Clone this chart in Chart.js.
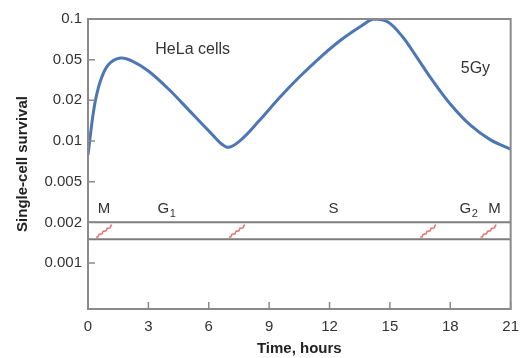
<!DOCTYPE html>
<html>
<head>
<meta charset="utf-8">
<script src="https://cdn.jsdelivr.net/npm/chart.js@4"></script>
<style>
  html, body { margin: 0; padding: 0; background: #fff; }
  #wrap { width: 528px; height: 358px; }
</style>
</head>
<body>
<div id="wrap"><canvas id="myChart"></canvas></div>
<script>
// survival curve
const hours    = [0, 0.3, 0.6, 1.0, 1.6, 2.2, 3, 4, 5, 6, 6.9, 7.6, 8.5, 9.5, 10.5, 11.5, 12.5, 13.5, 14.2, 14.9, 15.6, 16.3, 17, 18, 19, 20, 21];
const survival = [0.0079, 0.0175, 0.0302, 0.0443, 0.0514, 0.0485, 0.0387, 0.0258, 0.0170, 0.0119, 0.0090, 0.0102, 0.0141, 0.0211, 0.0338, 0.0514, 0.0687, 0.0872, 0.100, 0.095, 0.0748, 0.0532, 0.0338, 0.0188, 0.0131, 0.0102, 0.0087];

// y axis tick labels (evenly spaced on the figure)
const tickValues = [0.001, 0.002, 0.005, 0.01, 0.02, 0.05, 0.1];
const xTicks = [0, 3, 6, 9, 12, 15, 18, 21];

// cell cycle band
const bandLevels = [0.002, 0.0015];
const phaseLabels = ['M', 'G|1', 'S', 'G|2', 'M'];
const phaseLabelHours = [0.8, 3.9, 12.2, 18.9, 20.2];
const phaseBoundaries = [0.8, 7.4, 16.9, 19.9];

// map a survival value onto the figure's evenly spaced axis
function toAxis(v) {
  const t = tickValues;
  let i = 0;
  while (i < t.length - 2 && v > t[i + 1]) i++;
  return i + Math.log(v / t[i]) / Math.log(t[i + 1] / t[i]);
}

const curve = hours.map((h, i) => ({ x: h, y: toAxis(survival[i]) }));
const bands = bandLevels.map(v => [{ x: 0, y: toAxis(v) }, { x: 21, y: toAxis(v) }]);

const FONT = '"Liberation Sans", Arial, sans-serif';

const decor = {
  id: 'decor',
  afterDatasetsDraw(chart) {
    const { ctx, chartArea: a, scales: { x, y } } = chart;
    ctx.save();
    // frame
    ctx.strokeStyle = '#8a8a8a';
    ctx.lineWidth = 2;
    ctx.strokeRect(a.left, a.top, a.right - a.left, a.bottom - a.top);
    // inner ticks
    ctx.lineWidth = 1.5;
    ctx.beginPath();
    y.ticks.forEach(t => {
      const py = y.getPixelForValue(t.value);
      ctx.moveTo(a.left, py); ctx.lineTo(a.left + 7, py);
    });
    x.ticks.forEach(t => {
      const px = x.getPixelForValue(t.value);
      ctx.moveTo(px, a.bottom); ctx.lineTo(px, a.bottom - 7);
    });
    ctx.stroke();

    // zigzags at phase boundaries
    const yTop = y.getPixelForValue(toAxis(bandLevels[0]));
    const yBot = y.getPixelForValue(toAxis(bandLevels[1]));
    ctx.strokeStyle = '#e87272';
    ctx.lineWidth = 1.5;
    phaseBoundaries.forEach(h => {
      const cx = x.getPixelForValue(h);
      const x0 = cx - 8, y0 = yBot - 2, x1 = cx + 8, y1 = yTop + 3;
      const n = 4;
      ctx.beginPath();
      ctx.moveTo(x0, y0);
      for (let k = 0; k < n; k++) {
        const xa = x0 + (x1 - x0) * (k + 0.5) / n;
        const xb = x0 + (x1 - x0) * (k + 1) / n;
        const ya = y0 + (y1 - y0) * (k + 1) / n;
        ctx.lineTo(xa, ya + 2.5);
        ctx.lineTo(xa + 1, ya);
        ctx.lineTo(xb, ya);
      }
      ctx.stroke();
    });

    // phase labels
    ctx.fillStyle = '#333';
    ctx.textBaseline = 'alphabetic';
    phaseLabels.forEach((lab, i) => {
      const [main, sub] = lab.split('|');
      ctx.font = '15px ' + FONT;
      const w1 = ctx.measureText(main).width;
      ctx.font = '11px ' + FONT;
      const w2 = sub ? ctx.measureText(sub).width : 0;
      const cx = x.getPixelForValue(phaseLabelHours[i]);
      const left = cx - (w1 + w2) / 2;
      const base = yTop - 9;
      ctx.textAlign = 'left';
      ctx.font = '15px ' + FONT;
      ctx.fillText(main, left, base);
      if (sub) {
        ctx.font = '11px ' + FONT;
        ctx.fillText(sub, left + w1 + 0.5, base + 4);
      }
    });

    // annotations
    ctx.font = '16px ' + FONT;
    ctx.textAlign = 'center';
    ctx.textBaseline = 'middle';
    ctx.fillText('HeLa cells', x.getPixelForValue(5.2), y.getPixelForValue(toAxis(0.059)));
    ctx.fillText('5Gy', x.getPixelForValue(19.25), y.getPixelForValue(toAxis(0.041)));
    ctx.restore();
  }
};

const chart = new Chart(document.getElementById('myChart'), {
  type: 'line',
  data: {
    datasets: [
      { data: curve, borderColor: '#4d76b4', borderWidth: 3, pointRadius: 0, tension: 0.35, fill: false },
      { data: bands[0], borderColor: '#7d7d7d', borderWidth: 2, pointRadius: 0 },
      { data: bands[1], borderColor: '#7d7d7d', borderWidth: 2, pointRadius: 0 }
    ]
  },
  options: {
    responsive: true,
    maintainAspectRatio: false,
    animation: false,
    layout: { padding: { top: 19, right: 7, left: 14, bottom: 0 } },
    plugins: { legend: { display: false }, tooltip: { enabled: false } },
    scales: {
      x: {
        type: 'linear', min: 0, max: 21,
        afterBuildTicks: s => { s.ticks = xTicks.map(v => ({ value: v })); },
        afterFit: s => { s.height = 49; },
        grid: { display: false, drawTicks: false },
        border: { display: false },
        ticks: { color: '#333', padding: 9, font: { family: FONT, size: 15 }, maxRotation: 0 },
        title: { display: true, text: 'Time, hours', color: '#222', padding: { top: 1, bottom: 0 }, font: { family: FONT, size: 15, weight: 'bold' } }
      },
      y: {
        type: 'linear', min: -1.13, max: 6,
        afterBuildTicks: s => { s.ticks = tickValues.map((v, i) => ({ value: i })); },
        afterFit: s => { s.width = 74; },
        grid: { display: false, drawTicks: false },
        border: { display: false },
        ticks: { color: '#333', padding: 6, font: { family: FONT, size: 15 }, callback: v => String(tickValues[v]) },
        title: { display: true, text: 'Single-cell survival', color: '#222', padding: { top: 0, bottom: 2 }, font: { family: FONT, size: 15, weight: 'bold' } }
      }
    }
  },
  plugins: [decor]
});
</script>
</body>
</html>
